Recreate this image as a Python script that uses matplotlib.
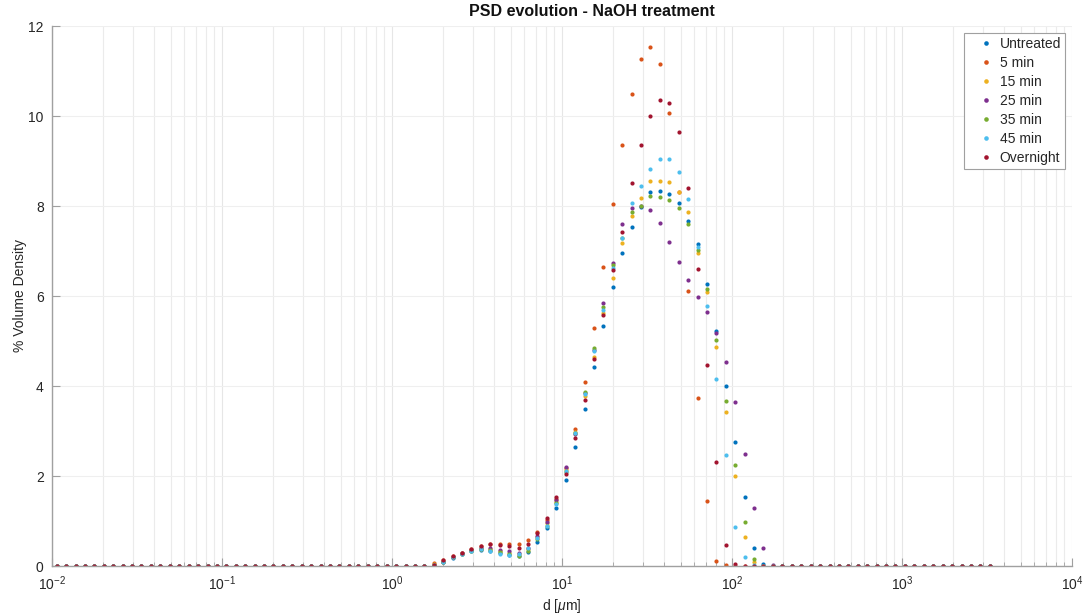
import numpy as np
import matplotlib
matplotlib.use("Agg")
import matplotlib.pyplot as plt
from matplotlib.ticker import FixedLocator

plt.rcParams['font.family'] = ['Liberation Sans', 'DejaVu Sans']
plt.rcParams['mathtext.fontset'] = 'custom'
plt.rcParams['mathtext.rm'] = 'Liberation Sans'
plt.rcParams['mathtext.it'] = 'Liberation Sans:italic'

# Size class edges (um) of the laser diffraction analyser
size_edges = [
    0.01, 0.0114, 0.0129, 0.0147, 0.0167, 0.0189, 0.0215, 0.0244, 0.0278, 0.0315,
    0.0358, 0.0407, 0.0463, 0.0526, 0.0597, 0.0679, 0.0771, 0.0876, 0.0995, 0.113,
    0.128, 0.146, 0.166, 0.188, 0.214, 0.243, 0.276, 0.314, 0.357, 0.405,
    0.46, 0.523, 0.594, 0.675, 0.767, 0.872, 0.991, 1.13, 1.28, 1.45,
    1.65, 1.88, 2.13, 2.42, 2.75, 3.12, 3.55, 4.03, 4.58, 5.21,
    5.92, 6.72, 7.64, 8.68, 9.86, 11.2, 12.7, 14.5, 16.4, 18.7,
    21.2, 24.1, 27.4, 31.1, 35.3, 40.1, 45.6, 51.8, 58.9, 66.9,
    76, 86.4, 98.1, 111, 127, 144, 163, 186, 211, 240,
    272, 310, 352, 400, 454, 516, 586, 666, 756, 859,
    976, 1110, 1260, 1430, 1630, 1850, 2100, 2390, 2710, 3080,
    3500,
]

labels = ['Untreated', '5 min', '15 min', '25 min', '35 min', '45 min', 'Overnight']
colors = ['#0072BD', '#D95319', '#EDB120', '#7E2F8E', '#77AC30', '#4DBEEE', '#A2142F']

x_ticks = [1e-2, 1e-1, 1e0, 1e1, 1e2, 1e3, 1e4]
y_ticks = [0, 2, 4, 6, 8, 10, 12]

# % volume density per size class (100 classes)
untreated = [
    0, 0, 0, 0, 0, 0, 0, 0, 0, 0,
    0, 0, 0, 0, 0, 0, 0, 0, 0, 0,
    0, 0, 0, 0, 0, 0, 0, 0, 0, 0,
    0, 0, 0, 0, 0, 0, 0, 0, 0, 0,
    0.02, 0.09, 0.18, 0.26, 0.33, 0.36, 0.33, 0.30, 0.25, 0.23,
    0.32, 0.53, 0.84, 1.30, 1.91, 2.65, 3.50, 4.43, 5.34, 6.21,
    6.96, 7.54, 7.97, 8.32, 8.33, 8.27, 8.06, 7.67, 7.15, 6.27,
    5.22, 4.01, 2.76, 1.54, 0.41, 0.05, 0, 0, 0, 0,
    0, 0, 0, 0, 0, 0, 0, 0, 0, 0,
    0, 0, 0, 0, 0, 0, 0, 0, 0, 0,
]
min5 = [
    0, 0, 0, 0, 0, 0, 0, 0, 0, 0,
    0, 0, 0, 0, 0, 0, 0, 0, 0, 0,
    0, 0, 0, 0, 0, 0, 0, 0, 0, 0,
    0, 0, 0, 0, 0, 0, 0, 0, 0, 0,
    0.06, 0.14, 0.22, 0.30, 0.37, 0.45, 0.50, 0.50, 0.50, 0.50,
    0.58, 0.76, 1.02, 1.50, 2.18, 3.04, 4.08, 5.30, 6.65, 8.04,
    9.36, 10.49, 11.26, 11.53, 11.16, 10.07, 8.30, 6.11, 3.73, 1.44,
    0.12, 0.02, 0, 0, 0, 0, 0, 0, 0, 0,
    0, 0, 0, 0, 0, 0, 0, 0, 0, 0,
    0, 0, 0, 0, 0, 0, 0, 0, 0, 0,
]
min15 = [
    0, 0, 0, 0, 0, 0, 0, 0, 0, 0,
    0, 0, 0, 0, 0, 0, 0, 0, 0, 0,
    0, 0, 0, 0, 0, 0, 0, 0, 0, 0,
    0, 0, 0, 0, 0, 0, 0, 0, 0, 0,
    0.05, 0.10, 0.20, 0.28, 0.35, 0.38, 0.38, 0.33, 0.30, 0.27,
    0.37, 0.65, 0.95, 1.42, 2.13, 2.98, 3.78, 4.64, 5.62, 6.41,
    7.17, 7.78, 8.17, 8.56, 8.56, 8.53, 8.32, 7.87, 6.95, 6.08,
    4.86, 3.43, 2.00, 0.65, 0.10, 0, 0, 0, 0, 0,
    0, 0, 0, 0, 0, 0, 0, 0, 0, 0,
    0, 0, 0, 0, 0, 0, 0, 0, 0, 0,
]
min25 = [
    0, 0, 0, 0, 0, 0, 0, 0, 0, 0,
    0, 0, 0, 0, 0, 0, 0, 0, 0, 0,
    0, 0, 0, 0, 0, 0, 0, 0, 0, 0,
    0, 0, 0, 0, 0, 0, 0, 0, 0, 0,
    0.02, 0.10, 0.20, 0.28, 0.35, 0.40, 0.40, 0.36, 0.34, 0.30,
    0.40, 0.67, 0.98, 1.47, 2.20, 2.93, 3.85, 4.80, 5.84, 6.73,
    7.59, 7.95, 8.00, 7.91, 7.63, 7.21, 6.76, 6.36, 5.98, 5.64,
    5.18, 4.54, 3.64, 2.49, 1.28, 0.39, 0.02, 0, 0, 0,
    0, 0, 0, 0, 0, 0, 0, 0, 0, 0,
    0, 0, 0, 0, 0, 0, 0, 0, 0, 0,
]
min35 = [
    0, 0, 0, 0, 0, 0, 0, 0, 0, 0,
    0, 0, 0, 0, 0, 0, 0, 0, 0, 0,
    0, 0, 0, 0, 0, 0, 0, 0, 0, 0,
    0, 0, 0, 0, 0, 0, 0, 0, 0, 0,
    0.02, 0.10, 0.19, 0.27, 0.34, 0.37, 0.36, 0.31, 0.26, 0.22,
    0.34, 0.60, 0.90, 1.40, 2.10, 2.95, 3.87, 4.84, 5.75, 6.68,
    7.30, 7.86, 8.01, 8.23, 8.21, 8.13, 7.96, 7.59, 7.02, 6.15,
    5.02, 3.67, 2.24, 0.97, 0.15, 0, 0, 0, 0, 0,
    0, 0, 0, 0, 0, 0, 0, 0, 0, 0,
    0, 0, 0, 0, 0, 0, 0, 0, 0, 0,
]
min45 = [
    0, 0, 0, 0, 0, 0, 0, 0, 0, 0,
    0, 0, 0, 0, 0, 0, 0, 0, 0, 0,
    0, 0, 0, 0, 0, 0, 0, 0, 0, 0,
    0, 0, 0, 0, 0, 0, 0, 0, 0, 0,
    0.02, 0.10, 0.19, 0.27, 0.34, 0.37, 0.34, 0.27, 0.24, 0.27,
    0.39, 0.62, 0.90, 1.38, 2.12, 2.95, 3.82, 4.78, 5.69, 6.62,
    7.28, 8.06, 8.45, 8.82, 9.04, 9.04, 8.76, 8.15, 7.10, 5.78,
    4.15, 2.46, 0.86, 0.21, 0.02, 0, 0, 0, 0, 0,
    0, 0, 0, 0, 0, 0, 0, 0, 0, 0,
    0, 0, 0, 0, 0, 0, 0, 0, 0, 0,
]
overnight = [
    0, 0, 0, 0, 0, 0, 0, 0, 0, 0,
    0, 0, 0, 0, 0, 0, 0, 0, 0, 0,
    0, 0, 0, 0, 0, 0, 0, 0, 0, 0,
    0, 0, 0, 0, 0, 0, 0, 0, 0, 0,
    0.02, 0.14, 0.22, 0.30, 0.37, 0.45, 0.48, 0.46, 0.44, 0.39,
    0.50, 0.74, 1.06, 1.53, 2.04, 2.85, 3.69, 4.60, 5.57, 6.58,
    7.43, 8.52, 9.36, 10.01, 10.36, 10.28, 9.65, 8.39, 6.59, 4.47,
    2.32, 0.47, 0.05, 0, 0, 0, 0, 0, 0, 0,
    0, 0, 0, 0, 0, 0, 0, 0, 0, 0,
    0, 0, 0, 0, 0, 0, 0, 0, 0, 0,
]
series = [untreated, min5, min15, min25, min35, min45, overnight]

edges = np.array(size_edges)
d = np.sqrt(edges[:-1] * edges[1:])

fig = plt.figure(figsize=(10.92, 6.15), dpi=100)
ax = fig.add_axes([52 / 1092, 1 - 566 / 615, (1072 - 52) / 1092, (566 - 26) / 615])

for y, c, lab in zip(series, colors, labels):
    ax.plot(d, y, linestyle='none', marker='o', ms=3.0, mew=0, color=c, label=lab)

ax.set_xscale('log')
ax.set_xlim(x_ticks[0], x_ticks[-1])
ax.set_ylim(y_ticks[0], y_ticks[-1])
ax.set_yticks(y_ticks)
ax.xaxis.set_major_locator(FixedLocator(x_ticks))
minor = [m * t for t in x_ticks[:-1] for m in range(2, 10)]
ax.xaxis.set_minor_locator(FixedLocator(minor))

ax.grid(True, which='major', axis='x', color='#e6e6e6', lw=0.8)
ax.grid(True, which='minor', axis='x', color='#ebebeb', lw=0.8)
ax.grid(True, which='major', axis='y', color='#efefef', lw=0.8)
ax.set_axisbelow(True)

for s in ['top', 'right']:
    ax.spines[s].set_visible(False)
for s in ['left', 'bottom']:
    ax.spines[s].set_color('#a0a0a0')
    ax.spines[s].set_linewidth(1.0)

ax.tick_params(axis='both', which='major', direction='in', colors='#a0a0a0',
               labelcolor='#262626', labelsize=10, length=6, width=0.8)
ax.tick_params(axis='x', which='minor', direction='in', colors='#a0a0a0', length=3, width=0.6)
ax.tick_params(axis='x', which='major', pad=6)
ax.tick_params(axis='y', which='major', pad=6)

fig.text(592 / 1092, 1 - 12 / 615, 'PSD evolution - NaOH treatment', fontsize=11.5,
         fontweight='bold', color='#111111', ha='center', va='center')
ax.set_xlabel(r'd [$\mu$m]', fontsize=10, color='#262626', labelpad=3)
ax.set_ylabel('% Volume Density', fontsize=10, color='#262626', labelpad=1)

leg = ax.legend(loc='upper right', fontsize=10, frameon=True, fancybox=False,
                edgecolor='#a0a0a0', framealpha=1, handlelength=2.6,
                handletextpad=-0.35, labelspacing=0.36, borderpad=0.3,
                borderaxespad=0.5, markerscale=1.1)
leg.get_frame().set_linewidth(0.8)
for t in leg.get_texts():
    t.set_color('#262626')

fig.savefig('out.png', dpi=100, facecolor='white')
